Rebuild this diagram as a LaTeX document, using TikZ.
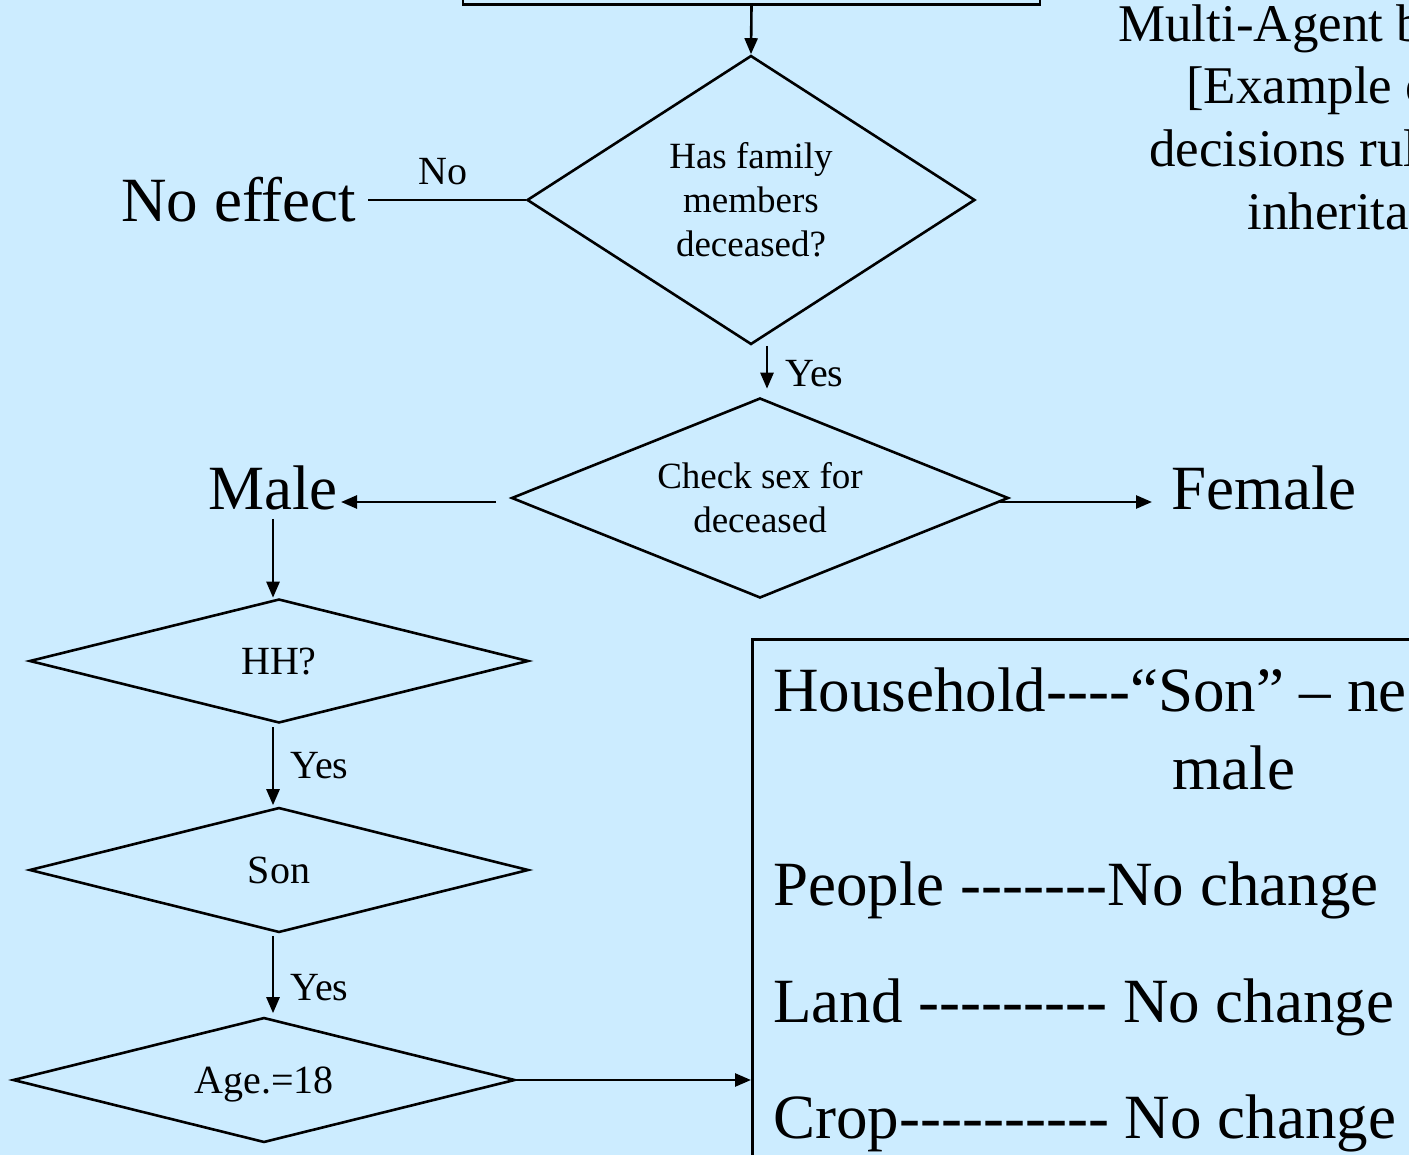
\documentclass[tikz,border=0pt]{standalone}
\usepackage{fontspec}
\setmainfont{Liberation Serif}[Ligatures=TeXOff]
\usepackage{tikz}
\usetikzlibrary{arrows.meta, positioning, shapes.geometric}
\definecolor{bgblue}{RGB}{204,236,255}

\begin{document}
\begin{tikzpicture}[
  x=1pt, y=-1pt,
  line width=2.6pt,
  dec/.style={draw, diamond, inner sep=0pt, align=center},
  arrow/.style={-{Triangle[length=16pt, width=13pt]}},
  big/.style={font=\fontsize{63}{72}\selectfont, inner sep=2pt},
  title/.style={font=\fontsize{53}{63}\selectfont, inner sep=0pt, anchor=base west},
  small/.style={font=\fontsize{37}{44}\selectfont},
  lab/.style={font=\fontsize{40}{48}\selectfont, inner sep=2pt},
]

% --- Canvas (the slide is cut at its edges)
\useasboundingbox (0,0) rectangle (1409,1155);
\clip (0,0) rectangle (1409,1155);
\fill[bgblue] (0,0) rectangle (1409,1155);

% --- Decision chain
\node[draw, minimum width=577pt, minimum height=100pt, anchor=south] (top) at (751.5,6) {};
\node[dec, small, aspect=1.55, minimum width=448pt, minimum height=289pt] (family) at (751,200)
  {Has family\\members\\deceased?};
\node[dec, small, aspect=2.5, minimum width=497pt, minimum height=200pt] (sex) at (760,498)
  {Check sex for\\deceased};
\node[dec, lab, text depth=0pt, aspect=4, minimum width=499pt, minimum height=124pt] (hh) at (279,661) {HH?};
\node[dec, lab, text depth=0pt, aspect=4, minimum width=499pt, minimum height=125pt] (son) at (279,870) {Son};
\node[dec, lab, text depth=0pt, aspect=4, minimum width=502pt, minimum height=125pt] (age) at (264,1080) {Age.=18};

% --- Outcomes
\node[big, anchor=base west] (noeffect) at (118,222) {No effect};
\node[big, anchor=base west] (male) at (205,510) {Male};
\node[big, anchor=base west] (female) at (1168,510) {Female};

% --- Title (runs off the right edge)
\node[title] (title1) at (1117,42) {Multi-Agent b};
\node[title] (title2) at (1185,104) {[Example o};
\node[title] (title3) at (1148,167) {decisions rul};
\node[title] (title4) at (1246,230) {inherita};

% --- Result box
\node[draw, anchor=north west, minimum width=800pt, minimum height=700pt] (rules) at (751,638) {};
\node[big, anchor=base west] (household) at (770,711) {Household----“Son” – ne};
\node[big, anchor=base] (malerule) at (1234,789) {male};
\node[big, anchor=base west] (people) at (770,905) {People -------No change};
\node[big, anchor=base west] (land) at (770,1022) {Land --------- No change};
\node[big, anchor=base west] (crop) at (770,1138) {Crop---------- No change};

% --- Arrows
\draw[arrow] (top.south) -- (family.north);

\draw[shorten >=8pt] (family.west) -- node[lab, above=12pt] {No} (noeffect.east |- family.west);

\coordinate (famyes) at ([xshift=16pt]family.south);
\draw[arrow, shorten >=8pt] (famyes) -- node[lab, pos=0.55, right=15pt] {Yes} (famyes |- sex.north);

\coordinate (tomale) at ([shift={(-14,4)}]sex.west);
\draw[arrow] (tomale) -- (tomale -| male.east);

\coordinate (tofemale) at ([shift={(-10,4)}]sex.east);
\draw[arrow, shorten >=16pt] (tofemale) -- (tofemale -| female.west);

\draw[arrow, shorten <=5pt] (male.south) -- (male.south |- hh.north);

\draw[arrow, shorten <=3pt, shorten >=1pt] (male.south |- hh.south) --
  node[lab, midway, right=14pt] {Yes} (male.south |- son.north);

\draw[arrow, shorten <=2pt, shorten >=3pt] (male.south |- son.south) --
  node[lab, pos=0.65, right=14pt] {Yes} (male.south |- age.north);

\draw[arrow] (age.east) -- (age.east -| rules.west);

\end{tikzpicture}
\end{document}
